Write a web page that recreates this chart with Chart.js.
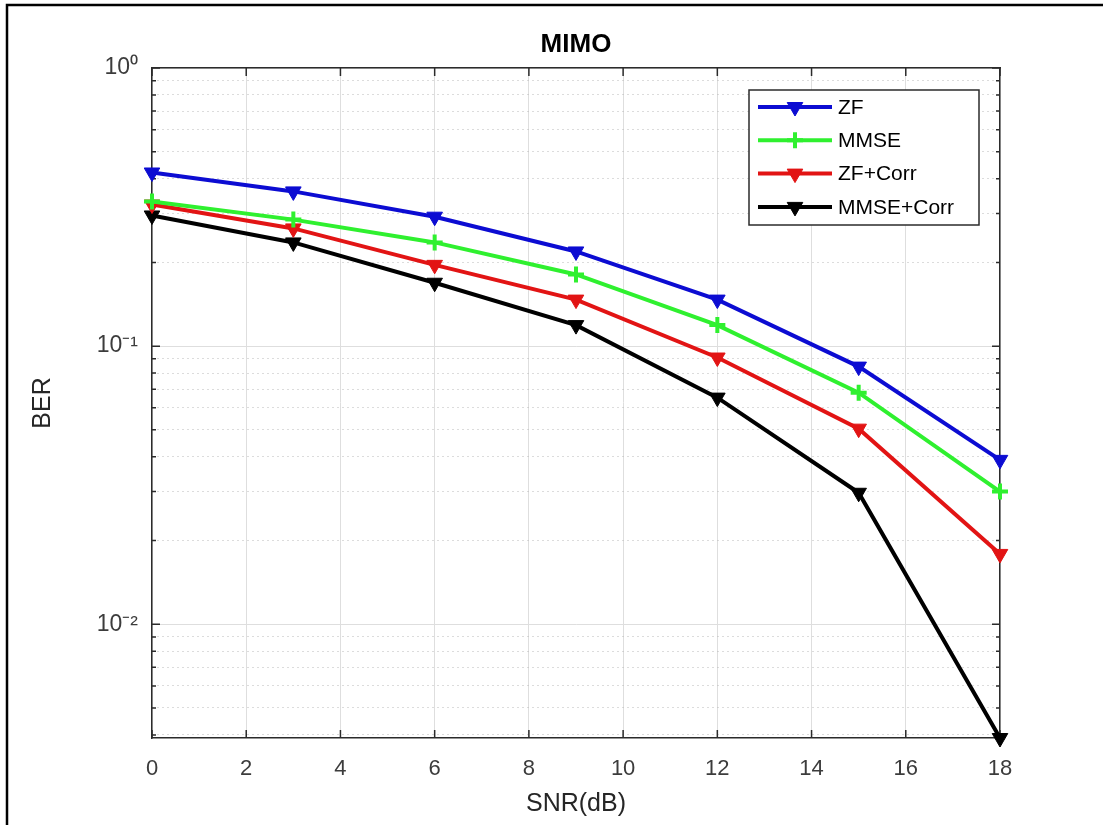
<!DOCTYPE html>
<html>
<head>
<meta charset="utf-8">
<title>MIMO</title>
<script src="https://cdn.jsdelivr.net/npm/chart.js@4/dist/chart.umd.min.js"></script>
<style>
    body { margin: 0; background: #fff; }
    canvas { display: block; }
</style>
</head>
<body>
<canvas id="berChart" width="1103" height="825"></canvas>
<script>
// ---- data ----
const snr = [0, 3, 6, 9, 12, 15, 18];
const berZF = [0.421, 0.36, 0.292, 0.219, 0.147, 0.0844, 0.039];
const berMMSE = [0.331, 0.285, 0.236, 0.181, 0.119, 0.068, 0.030];
const berZFCorr = [0.323, 0.265, 0.196, 0.147, 0.091, 0.0505, 0.0179];
const berMMSECorr = [0.295, 0.236, 0.169, 0.119, 0.0653, 0.0297, 0.0039];

const seriesNames = ["ZF", "MMSE", "ZF+Corr", "MMSE+Corr"];

// ---- axes ----
const xTicks = [0, 2, 4, 6, 8, 10, 12, 14, 16, 18];
const yTickValues = [0.004, 0.005, 0.006, 0.007, 0.008, 0.009,
    0.01, 0.02, 0.03, 0.04, 0.05, 0.06, 0.07, 0.08, 0.09,
    0.1, 0.2, 0.3, 0.4, 0.5, 0.6, 0.7, 0.8, 0.9, 1];
const yMajor = [0.01, 0.1, 1];
const yMajorLabels = ["10\u207B\u00B2", "10\u207B\u00B9", "10\u2070"];

const font = "'Liberation Sans', Arial, Helvetica, sans-serif";
const axisColor = "#2b2b2b";
const tickColor = "#3c3c3c";

function isMajor(v) {
    return yMajor.indexOf(v) !== -1;
}

function makeSet(label, data, color, style) {
    return {
        label: label,
        data: data,
        borderColor: color,
        backgroundColor: color,
        borderWidth: 4,
        pointStyle: style,
        pointRotation: style === "triangle" ? 180 : 0,
        pointRadius: style === "cross" ? 8 : 9,
        pointBorderWidth: style === "cross" ? 4 : 1,
        pointBackgroundColor: color,
        pointBorderColor: color,
        tension: 0,
        clip: false
    };
}

// white page + figure frame (top and left edges)
const framePlugin = {
    id: "frame",
    beforeDraw(chart) {
        const c = chart.ctx;
        c.save();
        c.fillStyle = "#fff";
        c.fillRect(0, 0, chart.width, chart.height);
        c.strokeStyle = "#000";
        c.lineWidth = 2.5;
        c.beginPath();
        c.moveTo(7, chart.height);
        c.lineTo(7, 5);
        c.lineTo(chart.width, 5);
        c.stroke();
        c.restore();
    }
};

// MATLAB style tick marks pointing into the axes
const innerTicks = {
    id: "innerTicks",
    beforeDatasetsDraw(chart) {
        const c = chart.ctx;
        const a = chart.chartArea;
        const xs = chart.scales.x;
        const ys = chart.scales.y;
        c.save();
        c.strokeStyle = axisColor;
        c.lineWidth = 1.5;
        c.beginPath();
        xs.ticks.forEach(t => {
            const px = xs.getPixelForValue(t.value);
            c.moveTo(px, a.bottom); c.lineTo(px, a.bottom - 8);
            c.moveTo(px, a.top); c.lineTo(px, a.top + 8);
        });
        ys.ticks.forEach(t => {
            const py = ys.getPixelForValue(t.value);
            const len = isMajor(t.value) ? 8 : 4;
            c.moveTo(a.left, py); c.lineTo(a.left + len, py);
            c.moveTo(a.right, py); c.lineTo(a.right - len, py);
        });
        c.stroke();
        c.restore();
    }
};

// legend box inside the top right corner of the axes
const boxLegend = {
    id: "boxLegend",
    afterDraw(chart) {
        const c = chart.ctx;
        const a = chart.chartArea;
        const left = a.right - 251, top = a.top + 22, w = 230, h = 135;
        c.save();
        c.fillStyle = "#fff";
        c.fillRect(left, top, w, h);
        c.strokeStyle = axisColor;
        c.lineWidth = 1.5;
        c.strokeRect(left, top, w, h);
        c.font = "21px " + font;
        c.textBaseline = "middle";
        chart.data.datasets.forEach((ds, i) => {
            const y = top + 17 + i * 33.3;
            c.strokeStyle = ds.borderColor;
            c.fillStyle = ds.borderColor;
            c.lineWidth = ds.borderWidth;
            c.beginPath();
            c.moveTo(left + 9, y);
            c.lineTo(left + 83, y);
            c.stroke();
            c.lineWidth = ds.pointBorderWidth;
            Chart.helpers.drawPoint(c, {
                pointStyle: ds.pointStyle,
                rotation: ds.pointRotation,
                radius: ds.pointRadius,
                borderWidth: ds.pointBorderWidth
            }, left + 46, y);
            c.fillStyle = "#000";
            c.fillText(ds.label, left + 89, y + 1);
        });
        c.restore();
    }
};

new Chart(document.getElementById("berChart"), {
    type: "line",
    data: {
        labels: snr,
        datasets: [
            makeSet(seriesNames[0], berZF, "#0c0cd2", "triangle"),
            makeSet(seriesNames[1], berMMSE, "#2ff02f", "cross"),
            makeSet(seriesNames[2], berZFCorr, "#e21414", "triangle"),
            makeSet(seriesNames[3], berMMSECorr, "#000000", "triangle")
        ]
    },
    options: {
        responsive: false,
        animation: false,
        layout: { padding: 0 },
        plugins: {
            legend: { display: false },
            tooltip: { enabled: false }
        },
        scales: {
            x: {
                type: "linear",
                position: "bottom",
                min: 0,
                max: 18,
                afterBuildTicks: s => { s.ticks = xTicks.map(v => ({ value: v })); },
                afterFit: s => { s.height = 87; },
                grid: { color: "#dedede", lineWidth: 1, drawTicks: false },
                border: { color: axisColor, width: 1.5 },
                ticks: {
                    color: tickColor,
                    font: { family: font, size: 22 },
                    padding: 18,
                    maxRotation: 0,
                    autoSkip: false
                },
                title: {
                    display: true,
                    text: "SNR(dB)",
                    color: "#262626",
                    font: { family: font, size: 25 },
                    padding: { top: 0, bottom: 6 }
                }
            },
            y: {
                type: "logarithmic",
                position: "left",
                min: 0.0039,
                max: 1,
                afterBuildTicks: s => {
                    s.ticks = yTickValues.map(v => ({ value: v, major: isMajor(v) }));
                },
                afterFit: s => { s.width = 152; },
                grid: {
                    color: ctx => isMajor(ctx.tick.value) ? "#dedede" : "#b8b8b8",
                    lineWidth: 1,
                    drawTicks: false
                },
                border: {
                    color: axisColor,
                    width: 1.5,
                    dash: ctx => (ctx.type === "tick" && !isMajor(ctx.tick.value)) ? [1, 4] : []
                },
                ticks: {
                    color: tickColor,
                    font: { family: font, size: 23 },
                    padding: 14,
                    autoSkip: false,
                    callback: v => {
                        const k = yMajor.indexOf(v);
                        return k === -1 ? "" : yMajorLabels[k];
                    }
                },
                title: {
                    display: true,
                    text: "BER",
                    color: "#262626",
                    font: { family: font, size: 25 },
                    padding: { top: 28, bottom: 0 }
                }
            },
            x2: {
                type: "linear",
                position: "top",
                min: 0,
                max: 18,
                afterFit: s => { s.height = 68; },
                grid: { display: false },
                border: { color: axisColor, width: 1.5 },
                ticks: { display: false },
                title: {
                    display: true,
                    text: "MIMO",
                    color: "#000",
                    font: { family: font, size: 26, weight: "bold" },
                    padding: { top: 29, bottom: 0 }
                }
            },
            y2: {
                type: "linear",
                position: "right",
                min: 0,
                max: 1,
                afterFit: s => { s.width = 103; },
                grid: { display: false },
                border: { color: axisColor, width: 1.5 },
                ticks: { display: false }
            }
        }
    },
    plugins: [framePlugin, innerTicks, boxLegend]
});
</script>
</body>
</html>
